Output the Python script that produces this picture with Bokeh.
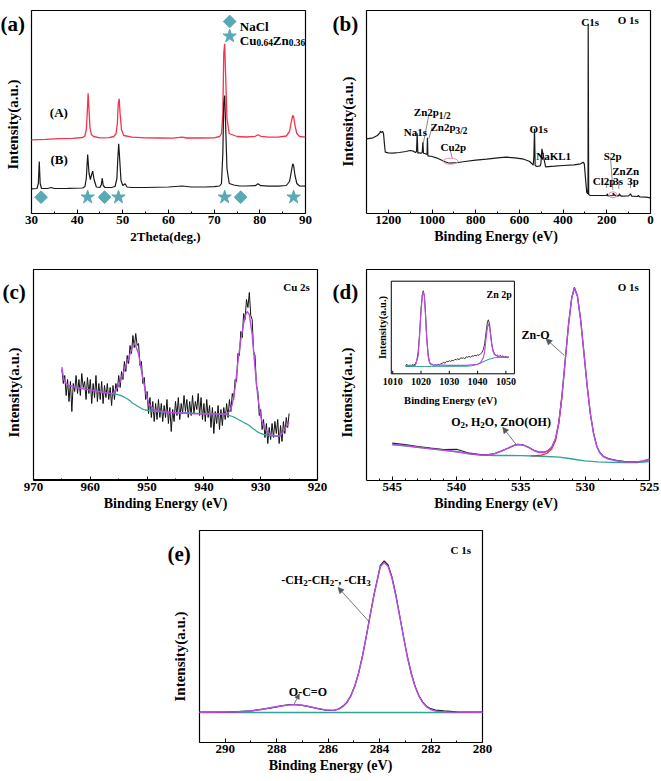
import numpy as np
from bokeh.plotting import figure
from bokeh.models import Range1d, FixedTicker, Label, Arrow, NormalHead, Spacer
from bokeh.layouts import row, column
from bokeh.core.properties import value
from bokeh.embed import file_html
from bokeh.resources import INLINE

FONT = "Liberation Serif"
PURPLE = "#b94ce8"
TEAL = "#33a39a"
RED = "#f2354d"
MARK = "#58a9b4"
GRAY = "#555555"
PINK = "#ef8db5"

# ---------------- (a) XRD ----------------
xrd_x_A = [30, 33, 36, 39, 41.2, 41.7, 42.0, 42.2, 42.4, 42.6, 42.8, 43.1, 43.6, 45, 47, 48.0, 48.5, 48.8,
           49.0, 49.2, 49.4, 49.7, 50.2, 52, 55, 58, 61, 63, 64, 67, 70, 71.2, 71.6, 71.9, 72.1, 72.3, 72.5,
           72.8, 73.3, 75, 77, 79.0, 79.6, 80.2, 82, 84, 85.8, 86.5, 86.9, 87.2, 87.4, 87.7, 88.1, 88.7, 90]
xrd_y_A = [73.7, 74.2, 74.8, 75.2, 76, 77.5, 84, 100, 120.3, 103, 86, 79, 77, 75.7, 75.8, 77, 79.5, 90,
           110, 114.7, 100, 84, 78, 76.3, 75.6, 75.5, 75.4, 76.3, 75.5, 75.5, 75.7, 77, 80, 100, 160, 169.7, 140,
           95, 80, 77, 76.5, 77.2, 78.7, 77.2, 76.3, 76.3, 77.5, 82, 92, 98, 97, 88, 80, 77, 76.3]
xrd_x_B = [30, 31.2, 31.5, 31.7, 31.9, 32.2, 33.5, 34.3, 35, 38, 41.2, 41.7, 42.0, 42.3, 42.6, 42.9, 43.1,
           43.4, 43.7, 44.2, 45.0, 45.3, 45.5, 45.7, 46.1, 47.5, 48.3, 48.7, 48.9, 49.1, 49.3, 49.6, 50.0,
           50.5, 50.9, 52, 55, 60, 63, 65, 68, 70, 71.2, 71.6, 71.9, 72.1, 72.3, 72.5, 72.8, 73.3, 74.3, 75.5,
           77, 79.0, 79.6, 80.2, 82, 84, 85.8, 86.5, 86.9, 87.2, 87.4, 87.7, 88.1, 88.7, 90]
xrd_y_B = [24.7, 25, 30, 52, 30, 25, 25, 26, 25, 25.2, 25.5, 27, 35, 59, 40, 34, 38,
           42.3, 34, 26.5, 26, 29, 35.3, 28, 26, 26, 27, 35, 55, 69.7, 55, 33, 28,
           29.7, 26.5, 26, 26, 26.5, 27.5, 26.5, 26.5, 26.8, 27.5, 30, 60, 110, 118, 90, 45, 30, 28.5, 27.5,
           27.5, 27.8, 29.7, 27.8, 27.3, 27.3, 28, 32, 42, 49.7, 48, 38, 30, 27.5, 27.3]
nacl_pos = [32.1, 46.0, 75.8]
cuzn_pos = [42.3, 49.05, 72.3, 87.4]
xrd_ticks = [30, 40, 50, 60, 70, 80, 90]

# ---------------- (b) survey ----------------
survey_x = [1300, 1270, 1250, 1240, 1236, 1232, 1226, 1222, 1218, 1214, 1200, 1180, 1150, 1120, 1100, 1085,
            1076, 1071, 1068, 1065, 1060, 1050, 1045, 1042, 1039, 1030, 1023, 1021, 1019, 1000, 980, 960,
            940, 920, 900, 880, 850, 800, 750, 700, 660, 620, 580, 555, 545, 537, 534, 531, 528, 520, 505,
            502, 500, 497, 480, 440, 400, 350, 320, 308, 303, 298, 292, 288, 286, 285.2, 283, 275, 250, 200,
            198, 195, 170, 172, 160, 145, 143, 135, 100, 91.5, 86, 60, 55, 50, 20, 0]
survey_y = [74.7, 75.7, 78, 80.3, 82.3, 81, 82, 79.7, 69.7, 61.3, 60.7, 60.3, 61, 62, 63, 62.3,
            61, 62, 80.3, 60.3, 60.7, 60.3, 61, 71.3, 60.3, 59.7, 59, 75.7, 57.7, 57, 55.7, 53.7,
            51.7, 50.3, 50.7, 51, 52, 53.3, 54.3, 55.7, 56.3, 55.7, 54.3, 52.3, 50.3, 48.3, 56.3, 84.7, 48, 47, 47.7,
            49.7, 55, 64.7, 46.7, 47.3, 48, 48.7, 49.7, 51.3, 49.7, 36.3, 21.3, 19.7, 26.3, 189.7, 19, 18, 18, 18,
            19.7, 17.7, 18, 20.3, 17.7, 17.7, 19.7, 17.3, 17.7, 19.7, 17.3, 17, 18, 16.7, 16.3, 15.7]
survey_ticks = [0, 200, 400, 600, 800, 1000, 1200]

# ---------------- (c) Cu 2s ----------------
cu_raw = [110, 96, 104, 84, 100, 78, 98, 68, 96, 88, 104, 86, 100, 84, 106, 92, 98, 80, 102, 86,
          100, 76, 96, 82, 104, 78, 96, 80, 98, 76, 94, 82, 96, 80, 92, 74, 94, 80, 96, 88,
          104, 92, 108, 100, 118, 108, 124, 116, 134, 126, 144, 132, 146, 134, 136, 114, 118, 96, 102, 80,
          88, 66, 82, 62, 78, 58, 76, 60, 80, 62, 76, 58, 74, 62, 80, 56, 72, 48, 70, 58,
          78, 64, 82, 60, 76, 66, 84, 68, 80, 62, 78, 64, 84, 66, 78, 70, 86, 64, 82, 60,
          76, 58, 80, 62, 74, 52, 72, 46, 68, 56, 74, 50, 70, 54, 72, 60, 76, 62, 80, 68,
          86, 80, 100, 98, 126, 124, 148, 142, 166, 160, 180, 172, 187, 164, 160, 128, 124, 94, 88, 64,
          70, 50, 60, 42, 56, 36, 52, 40, 56, 42, 58, 46, 60, 36, 54, 38, 58, 46, 62, 52, 66]
cu_fit_x = [965, 964.7, 964.3, 963.8, 962, 960.3, 958, 956.1, 955.6, 955, 954.4, 953.5, 952.7, 952.2,
            951.5, 950.9, 950.3, 949.7, 948.8, 946.8, 941.5, 937, 936, 935.5, 935, 934.5, 934, 933.5, 933,
            932.7, 932.4, 932, 931.5, 931, 930.5, 930, 929.5, 929, 928.5, 928, 927, 926.5, 926, 925.5, 925]
cu_fit_y = [112.3, 100.7, 96.5, 94, 91.5, 89.7, 87.5, 85.7, 89, 94, 103, 117.3, 130.7, 136.3,
            125.7, 105.7, 89, 75.7, 69.7, 67.3, 65.7, 65.5, 65.5, 68, 75, 92, 118, 140, 156,
            164, 168, 165, 145, 112, 82, 63, 53, 48.5, 46, 44.3, 43.3, 44, 48, 53, 57]
cu_bg_x = [956.1, 955.5, 955, 954.5, 954, 953.5, 953, 952.6, 952, 951.5, 950.9, 950.3, 949.7, 949.1, 948.5,
           947.5, 946, 944, 941, 938, 937, 936.5, 936, 935.5, 935, 934.5, 934, 933.5, 933, 932.5, 932,
           931.5, 931, 930.5, 930, 929.5, 929, 928.5, 928, 927.4, 927]
cu_bg_y = [85.7, 85.3, 84.6, 83.6, 82.3, 80.7, 78.7, 76.5, 74.5, 72.8, 70.7, 69.5, 68.8, 68.3, 68,
           67.6, 67.2, 66.8, 66.2, 65.8, 65.5, 65.2, 64.7, 64, 63, 61.8, 60.3, 58.7, 57, 55.7, 54,
           51.5, 49.5, 47.3, 46, 45.2, 44.7, 44.2, 43.7, 43.3, 43.3]
cu_ticks = [920, 930, 940, 950, 960, 970]

# ---------------- (d) O 1s + inset Zn 2p ----------------
o_x = [545, 544, 543, 542, 541, 540, 539, 538, 537.5, 537, 536.5, 536, 535.5, 535.2, 534.8, 534.4, 534,
       533.6, 533.2, 532.9, 532.6, 532.3, 532.05, 531.8, 531.55, 531.3, 531.05, 530.84, 530.6, 530.35,
       530.1, 529.85, 529.6, 529.35, 529.1, 528.85, 528.6, 528.2, 527.5, 527, 526.5, 526, 525.5, 525]
o_fit = [36, 35, 33.3, 31.7, 30.3, 29, 26.7, 25.3, 25.7, 27, 29.5, 32.3, 35.3, 36, 35.3, 33, 30,
         28, 28, 29.5, 33, 42, 58, 85, 120, 155, 182, 192.3, 184, 160,
         128, 95, 67, 47, 34, 27.5, 24, 21.5, 19.5, 18.7, 18.5, 18.5, 19.5, 21.7]
o_raw = [37.3, 35.8, 34, 32.3, 30.8, 31.2, 27.3, 25.6, 25.8, 27, 29.5, 32.3, 35.3, 36.2, 35.5, 33.2, 30.3,
         28.5, 28.3, 29.8, 33.2, 42, 58, 85.5, 120.5, 155.5, 182.5, 193, 184.5, 160.5,
         128, 95, 67, 47.3, 34.3, 27.8, 24.3, 22, 20, 19.2, 18.8, 18.7, 19.5, 21]
o_main_x = [534.2, 533.8, 533.4, 533.0, 532.6, 532.3, 532.05, 531.8]
o_main_y = [24.6, 24.9, 25.4, 27, 31.5, 40, 57, 84]
o_bg_x = [545, 541, 539, 538, 537, 536, 535, 534, 533, 532, 531.5, 531, 530.5, 530, 529, 528, 527, 526, 525.5, 525]
o_bg_y = [36, 30.3, 26.7, 25.3, 25, 25, 24.8, 24.5, 24, 23.3, 22.5, 21.5, 20.5, 19.7, 18.7, 18.2, 18, 18, 18.5, 19]
o_ticks = [525, 530, 535, 540, 545]

zn_x = [1014.5, 1015, 1015.5, 1016, 1016.5, 1017, 1017.5, 1018, 1018.5, 1019, 1019.5, 1020, 1020.5, 1020.8,
        1021.2, 1021.6, 1022, 1022.5, 1023, 1023.5, 1024, 1024.5, 1025, 1025.5, 1026, 1026.5, 1027, 1027.5,
        1028, 1028.5, 1029, 1029.5, 1030, 1030.5, 1031, 1031.5, 1032, 1032.5, 1033, 1033.5, 1034, 1034.5,
        1035, 1035.5, 1036, 1036.5, 1037, 1037.5, 1038, 1038.5, 1039, 1039.5, 1040, 1040.5, 1041, 1041.5,
        1042, 1042.5, 1043, 1043.5, 1043.8, 1044.2, 1044.6, 1045, 1045.5, 1046, 1046.5, 1047, 1047.5, 1048,
        1048.5, 1049, 1049.5, 1050, 1050.5, 1051]
zn_raw = [8.0, 9.5, 7.5, 9, 8, 9.5, 8.5, 10, 13, 22, 40, 65, 80, 83,
          78, 60, 38, 20, 12,
          9, 9.5, 8.5, 9, 8.5, 9.5, 9, 10, 10.5, 11.5, 10.5, 12.5, 12, 13, 12.5, 13.5, 13, 14.5, 14, 15,
          14, 16, 15.5, 16, 15, 17, 16.5, 17.5, 16.5, 18, 17.5, 18.5, 18, 19, 18.5, 20, 21,
          24, 30, 42, 52, 54, 50, 40, 30, 23, 20, 18, 19, 17, 18.5,
          17, 18, 16.5, 17.5, 16, 17]
zn_fit_x = [1014.5, 1018, 1019, 1019.5, 1020, 1020.5, 1020.8, 1021.2, 1021.6, 1022, 1022.5, 1023, 1024,
            1030, 1036, 1040, 1041, 1042, 1042.5, 1043, 1043.5, 1043.8, 1044.2, 1044.6, 1045, 1045.5, 1046,
            1047, 1048, 1050, 1051]
zn_fit_y = [8.3, 8.5, 18, 38, 62, 79, 82, 77, 58, 36, 18, 11, 9,
            8.5, 8.5, 9.5, 11, 16, 22, 36, 47, 50, 47, 38, 29, 22, 19,
            17.5, 17, 16.5, 17]
zn_bg_x = [1014.5, 1036, 1038, 1040, 1042, 1044, 1046, 1048, 1051]
zn_bg_y = [7.3, 7.5, 8, 9.5, 12, 14.5, 16, 16.5, 16.5]
zn_ticks = [1010, 1020, 1030, 1040, 1050]

# ---------------- (e) C 1s ----------------
c_x = [291, 290, 289.5, 289, 288.6, 288.2, 287.8, 287.5, 287.3, 287.0, 286.7, 286.4, 286.1, 285.8, 285.6,
       285.42, 285.27, 285.12, 284.97, 284.82, 284.67, 284.52, 284.37, 284.22, 284.07, 283.97, 283.82,
       283.67, 283.52, 283.37, 283.22, 283.07, 282.92, 282.77, 282.62, 282.47, 282.32, 282.17, 282.02,
       281.82, 281.5, 281, 280]
c_fit = [30.3, 30.4, 30.7, 31.5, 33, 35, 36.8, 37.6, 37.8, 37.2, 35.8, 34, 32.6, 32.2, 33.2,
         36, 39.8, 46.2, 55.8, 68.8, 85.5, 105.3, 126.3, 146.9, 164.3, 176, 180,
         176, 164.3, 146.9, 126.3, 105.3, 85.5, 68.8, 55.8, 46.2, 39.8, 35.6, 33,
         31.4, 30.6, 30.4, 30.3]
c_raw = [30.3, 30.4, 30.8, 31.6, 33.2, 34.6, 36.6, 37.9, 38, 37.2, 35.6, 33.8, 32.4, 32.0, 33.4,
         36.4, 40.4, 46.8, 56.2, 69.2, 86, 105.8, 127, 147.6, 165.2, 177, 181.5,
         177.5, 165.5, 148, 127, 106, 86, 69.5, 56.4, 46.8, 40.4, 36.2, 33.8,
         32.4, 31.6, 30.6, 30.3]
c_bg_x = [291, 280]
c_bg_y = [30.0, 30.0]
c_ticks = [280, 282, 284, 286, 288, 290]

# ---------------- helpers ----------------
W = {' ': 250, '(': 333, ')': 333, ',': 250, '-': 333, '.': 250, '/': 278, '=': 570,
     'A': 722, 'B': 667, 'C': 722, 'E': 667, 'H': 778, 'I': 389, 'K': 778, 'L': 667, 'N': 722,
     'O': 778, 'S': 556, 'T': 667, 'V': 722, 'Z': 667,
     'a': 500, 'b': 556, 'c': 444, 'd': 556, 'e': 444, 'g': 500, 'h': 556, 'i': 278, 'l': 278,
     'n': 556, 'p': 556, 'r': 444, 's': 389, 't': 333, 'u': 556, 'y': 500}


def text_w(t, size):
    return sum(W.get(ch, 500) for ch in t) / 1000.0 * size


def make_fig(w, h, bottom, xr, yr, bounds, ticks, minor, box_top, xlabel, xlabel_size):
    """Frame covers the whole canvas above the x axis; the visible panel box is drawn as a quad."""
    p = figure(width=w, height=h, x_range=Range1d(*xr), y_range=Range1d(*yr), output_backend="svg",
               toolbar_location=None, y_axis_location=None, title=None,
               min_border_left=0, min_border_right=0, min_border_top=0, min_border_bottom=bottom)
    p.grid.visible = False
    p.outline_line_color = None
    p.background_fill_color = "white"
    p.border_fill_color = "white"
    ax = p.xaxis[0]
    ax.bounds = bounds
    ax.ticker = FixedTicker(ticks=ticks, minor_ticks=minor)
    ax.major_tick_in = 4
    ax.major_tick_out = 0
    ax.minor_tick_in = 2
    ax.minor_tick_out = 0
    ax.major_tick_line_color = "black"
    ax.minor_tick_line_color = "black"
    ax.axis_line_color = "black"
    ax.axis_line_width = 1.2
    ax.major_label_text_font = FONT
    ax.major_label_text_font_size = "13px"
    ax.major_label_text_font_style = "bold"
    ax.major_label_text_color = "black"
    ax.major_label_standoff = 2
    ax.axis_label = xlabel
    ax.axis_label_text_font = FONT
    ax.axis_label_text_font_size = f"{xlabel_size}px"
    ax.axis_label_text_font_style = "bold"
    ax.axis_label_text_color = "black"
    ax.axis_label_standoff = 2
    lo, hi = min(bounds), max(bounds)
    p.quad(left=[lo], right=[hi], bottom=[yr[0] if yr[0] >= 0 else 0], top=[box_top],
           fill_color=None, line_color="black", line_width=1.2)
    return p


def lab(p, box, text, px, py, size, align="left", baseline="alphabetic", angle=0.0):
    p.add_layout(Label(x=px - box[0], y=box[1] - py, x_units="screen", y_units="screen",
                       text=text, text_font=FONT, text_font_size=f"{size}px",
                       text_font_style="bold", text_color="black", text_align=align,
                       text_baseline=baseline, angle=angle))


def runs(p, box, pieces, px, py, size, sub_scale=0.75, sub_drop=0.25):
    x = px
    for t, kind in pieces:
        if kind == "s":
            fs = size * sub_scale
            lab(p, box, t, x, py + size * sub_drop, round(fs, 1))
        else:
            fs = size
            lab(p, box, t, x, py, size)
        x += text_w(t, fs)


def arrow(p, x0, y0, x1, y1, size=6):
    p.add_layout(Arrow(end=NormalHead(size=size, fill_color=GRAY, line_color=GRAY, line_width=0.5),
                       x_start=x0, y_start=y0, x_end=x1, y_end=y1,
                       line_color=GRAY, line_width=0.8))


# ---------------- panel (a) ----------------
BOX_A = (0, 213)
fa = make_fig(330, 250, 37, (23.212, 95.474), (0, 213), (30, 90),
              xrd_ticks, [35, 45, 55, 65, 75, 85], 203, "2Theta(deg.)", 13)
fa.line(xrd_x_A, xrd_y_A, line_color=RED, line_width=1.3)
fa.line(xrd_x_B, xrd_y_B, line_color="#1a1a1a", line_width=1.2)
fa.scatter(nacl_pos, [16.3] * len(nacl_pos), marker="square", angle=np.pi / 4, size=9,
           fill_color=MARK, line_color=MARK)
fa.scatter(cuzn_pos, [16.3] * len(cuzn_pos), marker="star", size=14,
           fill_color=MARK, line_color=MARK)
fa.scatter([73.4], [192], marker="square", angle=np.pi / 4, size=9, fill_color=MARK, line_color=MARK)
fa.scatter([73.4], [177.3], marker="star", size=14, fill_color=MARK, line_color=MARK)
lab(fa, BOX_A, "NaCl", 239.3, 26, 13)
runs(fa, BOX_A, [("Cu", "n"), ("0.64", "s"), ("Zn", "n"), ("0.36", "s")], 239.3, 40, 13, 0.72, 0.18)
lab(fa, BOX_A, "(A)", 49.3, 111.7, 13)
lab(fa, BOX_A, "(B)", 50, 159.3, 13)
lab(fa, BOX_A, "(a)", 0, 23, 21)
lab(fa, BOX_A, "Intensity(a.u.)", 12.5, 124, 15, "center", "middle", np.pi / 2)

# ---------------- panel (b) ----------------
BOX_B = (330, 213)
fb = make_fig(331, 250, 37, (1464.8, -50.35), (0, 213), (0, 1300),
              survey_ticks, [100, 300, 500, 700, 900, 1100], 203, "Binding Energy (eV)", 14)
fb.line(survey_x, survey_y, line_color="#1a1a1a", line_width=1.2)
fb.ellipse(x=[915.5], y=[52.3], width=15, height=6, width_units="screen", height_units="screen",
           fill_color=None, line_color=PINK, line_width=1)
fb.ellipse(x=[172.5], y=[18.7], width=8, height=6, width_units="screen", height_units="screen",
           fill_color=None, line_color=PINK, line_width=1)
fb.segment(x0=[1015, 999.3, 918.7, 183, 198, 145, 91.5],
           y0=[98, 86.3, 64.7, 56.3, 33, 33, 33],
           x1=[1040.5, 1014.8, 907.7, 172.5, 201.4, 145, 91.5],
           y1=[69.7, 74.7, 55.7, 23.7, 25.7, 24.7, 25.7],
           line_color=GRAY, line_width=0.7)
lab(fb, BOX_B, "Na1s", 403.3, 131.7, 11)
runs(fb, BOX_B, [("Zn2p", "n"), ("1/2", "s")], 413.3, 111.7, 11, 0.85, 0.3)
runs(fb, BOX_B, [("Zn2p", "n"), ("3/2", "s")], 430, 126.7, 11, 0.85, 0.3)
lab(fb, BOX_B, "Cu2p", 440, 146.7, 11)
lab(fb, BOX_B, "O1s", 529, 128.3, 11)
lab(fb, BOX_B, "NaKL1", 535.7, 155, 11)
lab(fb, BOX_B, "S2p", 603.3, 155, 11)
lab(fb, BOX_B, "ZnZn", 611.7, 170.7, 11)
lab(fb, BOX_B, "Cl2p", 592.3, 180.7, 11)
lab(fb, BOX_B, "3s", 612.7, 180.7, 11)
lab(fb, BOX_B, "3p", 626.7, 180.7, 11)
lab(fb, BOX_B, "C1s", 580.7, 21.7, 11)
lab(fb, BOX_B, "O 1s", 617.3, 19, 11)
lab(fb, BOX_B, "(b)", 332, 23, 21)
lab(fb, BOX_B, "Intensity(a.u.)", 347, 121, 15, "center", "middle", np.pi / 2)

# ---------------- panel (c) ----------------
BOX_C = (0, 480)
fc = make_fig(330, 267, 37, (975.81, 917.71), (-1, 229), (920, 970),
              cu_ticks, [925, 935, 945, 955, 965], 210, "Binding Energy (eV)", 14)
cu_x = np.linspace(965, 925, len(cu_raw))
fc.line(cu_x, cu_raw, line_color="#111111", line_width=1.0)
fc.line(cu_bg_x, cu_bg_y, line_color=TEAL, line_width=1.3)
fc.line(cu_fit_x, cu_fit_y, line_color=PURPLE, line_width=1.4)
lab(fc, BOX_C, "Cu 2s", 282.7, 286.7, 11)
lab(fc, BOX_C, "(c)", 2, 291, 21)
lab(fc, BOX_C, "Intensity(a.u.)", 13, 392, 15, "center", "middle", np.pi / 2)

# ---------------- panel (d) ----------------
BOX_D = (330, 480)
fd = make_fig(331, 267, 37, (549.80, 524.067), (0, 230), (525, 547),
              o_ticks, [526, 527, 528, 529, 531, 532, 533, 534, 536, 537, 538, 539, 541, 542, 543, 544, 546],
              211, "Binding Energy (eV)", 14)
fd.extra_x_ranges = {"ix": Range1d(988.02, 1104.98)}
fd.extra_y_ranges = {"iy": Range1d(-106.7, 123.3)}
fd.line(o_bg_x, o_bg_y, line_color=TEAL, line_width=1.3)
fd.line(o_x, o_raw, line_color="#222222", line_width=1.2)
fd.line(o_main_x, o_main_y, line_color="#ff2020", line_width=1.2)
fd.line(o_x, o_fit, line_color=PURPLE, line_width=1.4)
arrow(fd, 531.62, 125, 533.05, 141.7)
arrow(fd, 535.39, 36.5, 536.42, 53.3)
lab(fd, BOX_D, "O 1s", 617.3, 286.7, 11)
lab(fd, BOX_D, "Zn-O", 521, 334.3, 12)
runs(fd, BOX_D, [("O", "n"), ("2", "s"), (", H", "n"), ("2", "s"), ("O, ZnO(OH)", "n")],
     450.7, 421.7, 12, 0.75, 0.25)
lab(fd, BOX_D, "(d)", 332, 291, 21)
lab(fd, BOX_D, "Intensity(a.u.)", 346, 392, 15, "center", "middle", np.pi / 2)
# inset
fd.quad(left=[1009.5], right=[1053.0], bottom=[0], top=[92.6], fill_color="white",
        line_color="black", line_width=1, x_range_name="ix", y_range_name="iy")
fd.segment(x0=zn_ticks, y0=[0] * 5, x1=zn_ticks, y1=[3] * 5, line_color="black", line_width=1,
           x_range_name="ix", y_range_name="iy")
fd.line(zn_bg_x, zn_bg_y, line_color=TEAL, line_width=1.1, x_range_name="ix", y_range_name="iy")
fd.line(zn_x, zn_raw, line_color="#222222", line_width=0.9, x_range_name="ix", y_range_name="iy")
fd.line(zn_fit_x, zn_fit_y, line_color=PURPLE, line_width=1.2, x_range_name="ix", y_range_name="iy")
fd.text(x=zn_ticks, y=[-7.4] * 5, text=[str(t) for t in zn_ticks], x_range_name="ix", y_range_name="iy",
        text_font=value(FONT), text_font_size=value("10px"), text_font_style="bold",
        text_align="center", text_baseline="middle", text_color="black")
lab(fd, BOX_D, "Zn 2p", 486, 294, 10)
lab(fd, BOX_D, "Intensity(a.u.)", 381.7, 327, 10.5, "center", "middle", np.pi / 2)
lab(fd, BOX_D, "Binding Energy (eV)", 450, 399.5, 10.5, "center")

# ---------------- panel (e) ----------------
BOX_E = (160, 742)
fe = make_fig(340, 264, 39, (292.516, 279.30), (0, 225), (280, 291),
              c_ticks, [281, 283, 285, 287, 289, 291], 212, "Binding Energy (eV)", 14)
fe.line(c_bg_x, c_bg_y, line_color=TEAL, line_width=1.3)
fe.line(c_x, c_raw, line_color="#222222", line_width=1.2)
fe.line(c_x, c_fit, line_color=PURPLE, line_width=1.4)
arrow(fe, 284.39, 120.3, 285.62, 155.3)
arrow(fe, 287.32, 38.5, 287.12, 48.7, 5)
lab(fe, BOX_E, "C 1s", 450, 549, 11)
runs(fe, BOX_E, [("-CH", "n"), ("2", "s"), ("-CH", "n"), ("2", "s"), ("-, -CH", "n"), ("3", "s")],
     280.7, 579, 12, 0.75, 0.28)
lab(fe, BOX_E, "O-C=O", 288.3, 691.7, 12)
lab(fe, BOX_E, "(e)", 167, 553.3, 21)
lab(fe, BOX_E, "Intensity(a.u.)", 179, 656, 15, "center", "middle", np.pi / 2)

layout = column(row(fa, fb), row(fc, fd), row(Spacer(width=160, height=264), fe))
open("out.html", "w").write(file_html(layout, INLINE))
